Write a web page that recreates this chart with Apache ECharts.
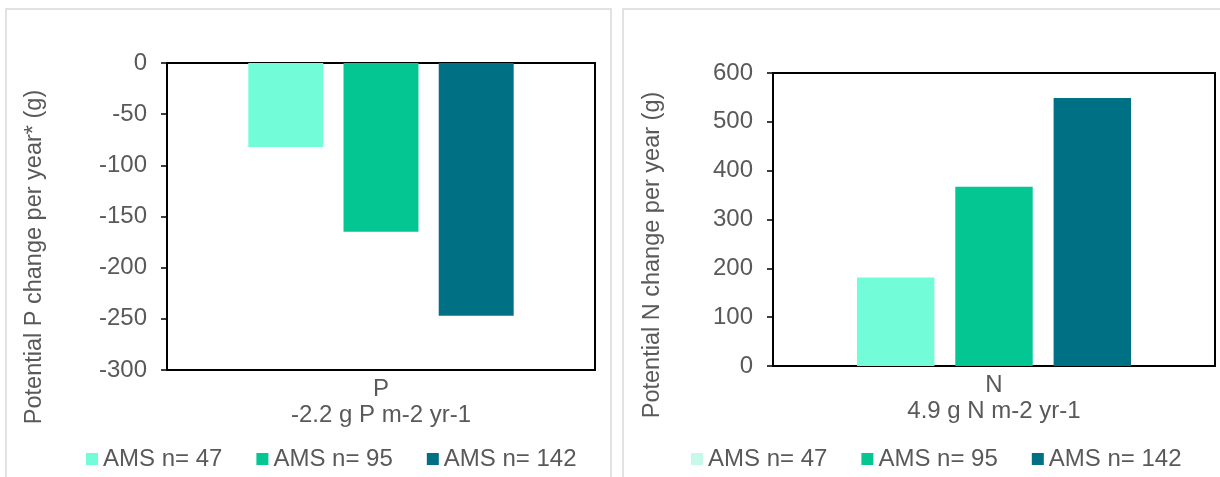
<!DOCTYPE html>
<html>
<head>
<meta charset="utf-8">
<script src="https://cdn.jsdelivr.net/npm/echarts@6/dist/echarts.min.js"></script>
<style>
html,body{margin:0;padding:0;background:#fff;}
#c{width:1220px;height:477px;}
</style>
</head>
<body>
<div id="c"></div>
<script>
const seriesNames = ['AMS n= 47', 'AMS n= 95', 'AMS n= 142'];
const colors = ['#73FCD8', '#03C692', '#007185'];
const pCategories = ['P'];
const pSubtitle = '-2.2 g P m-2 yr-1';
const pTitle = 'Potential P change per year* (g)';
const pValues = [-82, -165, -247];
const nCategories = ['N'];
const nSubtitle = '4.9 g N m-2 yr-1';
const nTitle = 'Potential N change per year (g)';
const nValues = [181, 367, 549];

const textColor = '#595959';
const font = 'Liberation Sans';
const fs = 24;

const chart = echarts.init(document.getElementById('c'), null, {renderer: 'canvas'});

function yAxis(idx, min, max, interval) {
  return {
    type: 'value', gridIndex: idx, min: min, max: max, interval: interval,
    axisLine: {show: true, lineStyle: {color: '#000', width: 2}},
    axisTick: {show: true, length: 6, lineStyle: {color: '#000', width: 1.5}},
    axisLabel: {color: textColor, fontFamily: font, fontSize: fs, margin: 20},
    splitLine: {show: false}
  };
}
function xAxis(idx, cats, sub) {
  return {
    type: 'category', gridIndex: idx, data: cats,
    axisLine: {show: true, onZero: false, lineStyle: {color: '#000', width: 2}},
    axisTick: {show: false},
    axisLabel: {color: textColor, fontFamily: font, fontSize: fs, lineHeight: 26, margin: 6,
      formatter: function (v) { return v + '\n' + sub; }},
    splitLine: {show: false}
  };
}

const series = [];
seriesNames.forEach(function (nm, i) {
  series.push({type: 'bar', name: nm, xAxisIndex: 0, yAxisIndex: 0, data: [pValues[i]],
    itemStyle: {color: colors[i]}, barGap: '27%', barCategoryGap: '38%'});
});
seriesNames.forEach(function (nm, i) {
  series.push({type: 'bar', name: nm, xAxisIndex: 1, yAxisIndex: 1, data: [nValues[i]],
    itemStyle: {color: colors[i]}, barGap: '27%', barCategoryGap: '38%'});
});

const legendBase = {
  orient: 'horizontal', itemWidth: 12, itemHeight: 12, itemGap: 34, icon: 'rect',
  textStyle: {color: textColor, fontFamily: font, fontSize: 24},
  selectedMode: false
};

function axisTitle(text, x, y) {
  return {type: 'text', x: x, y: y, rotation: Math.PI / 2, silent: true,
    style: {text: text, fill: textColor, font: '23.5px "Liberation Sans"', align: 'center', verticalAlign: 'middle'}};
}

chart.setOption({
  animation: false,
  graphic: [
    {type: 'rect', shape: {x: 6, y: 9, width: 605, height: 520}, style: {fill: 'none', stroke: '#d9d9d9', lineWidth: 1.5}, silent: true},
    {type: 'rect', shape: {x: 623, y: 9, width: 640, height: 520}, style: {fill: 'none', stroke: '#d9d9d9', lineWidth: 1.5}, silent: true},
    axisTitle(pTitle, 35, 257),
    axisTitle(nTitle, 653, 255)
  ],
  grid: [
    {left: 167, right: 625, top: 63, bottom: 107, show: true, borderColor: '#000', borderWidth: 2, containLabel: false},
    {left: 773, right: 5, top: 73, bottom: 111, show: true, borderColor: '#000', borderWidth: 2, containLabel: false}
  ],
  xAxis: [xAxis(0, pCategories, pSubtitle), xAxis(1, nCategories, nSubtitle)],
  yAxis: [yAxis(0, -300, 0, 50), yAxis(1, 0, 600, 100)],
  legend: [
    Object.assign({}, legendBase, {left: 81, top: 442, data: seriesNames.slice()}),
    Object.assign({}, legendBase, {left: 686, top: 442, data: [
      {name: seriesNames[0], itemStyle: {color: '#C6F9EA'}}, seriesNames[1], seriesNames[2]]})
  ],
  series: series
});
</script>
</body>
</html>
